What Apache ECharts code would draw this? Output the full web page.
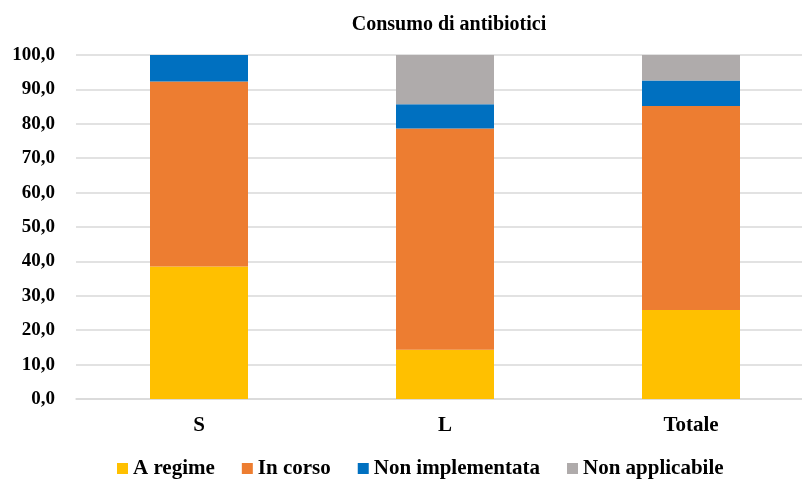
<!DOCTYPE html>
<html><head><meta charset="utf-8">
<script src="https://cdn.jsdelivr.net/npm/echarts@6/dist/echarts.min.js"></script>
<style>html,body{margin:0;padding:0;background:#fff;overflow:hidden;width:802px;height:479px}#c{width:820px;height:479px}</style>
</head><body><div id="c"></div>
<script>
const categories = ['S', 'L', 'Totale'];
const aRegime = [38.5, 14.3, 25.9];
const inCorso = [53.8, 64.3, 59.3];
const nonImplementata = [7.7, 7.1, 7.4];
const nonApplicabile = [0, 14.3, 7.4];
const seriesNames = ['A regime', 'In corso', 'Non implementata', 'Non applicabile'];
const colors = ['#FFC000', '#ED7D31', '#0070C0', '#AFABAB'];
const font = '"Liberation Serif", "Times New Roman", serif';

const chart = echarts.init(document.getElementById('c'), null, {renderer: 'canvas'});
const data = [aRegime, inCorso, nonImplementata, nonApplicabile];
chart.setOption({
  animation: false,
  title: {
    text: 'Consumo di antibiotici', left: 444, top: 10, textAlign: 'center',
    textStyle: {fontFamily: font, fontWeight: 'bold', fontSize: 20, color: '#000'}
  },
  legend: {
    top: 453, left: 112, itemWidth: 11, itemHeight: 11, itemGap: 27,
    icon: 'rect',
    textStyle: {fontFamily: font, fontWeight: 'bold', fontSize: 21, color: '#000'},
    data: seriesNames
  },
  grid: {left: 76, top: 55, width: 738, height: 344},
  xAxis: {
    type: 'category', data: categories,
    axisLine: {lineStyle: {color: '#D9D9D9', width: 1.5}},
    axisTick: {show: false},
    axisLabel: {fontFamily: font, fontWeight: 'bold', fontSize: 21, color: '#000', margin: 16}
  },
  yAxis: {
    type: 'value', min: 0, max: 100, interval: 10,
    axisLine: {show: false}, axisTick: {show: false},
    splitLine: {lineStyle: {color: '#D9D9D9', width: 1.5}},
    axisLabel: {fontFamily: font, fontWeight: 'bold', fontSize: 19, color: '#000', margin: 21,
      formatter: v => v.toFixed(1).replace('.', ',')}
  },
  series: seriesNames.map((n, i) => ({
    name: n, type: 'bar', stack: 'tot', barWidth: 98,
    itemStyle: {color: colors[i]},
    data: data[i]
  }))
});
</script></body></html>
